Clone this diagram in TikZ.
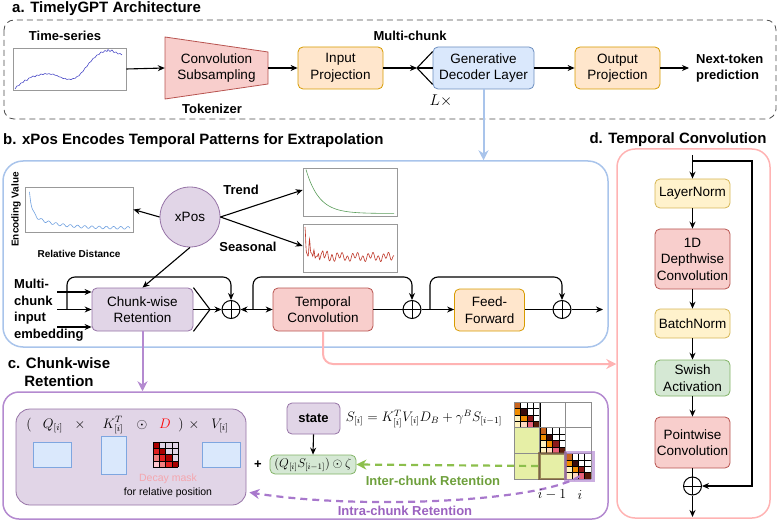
\documentclass[tikz,border=0pt]{standalone}
\usepackage{graphicx}
\usepackage{fontspec}
\setmainfont{Liberation Sans}
\usetikzlibrary{arrows.meta,calc}
\definecolor{pkF}{HTML}{F8CECC}\definecolor{pkD}{HTML}{B85450}
\definecolor{orF}{HTML}{FFE6CC}\definecolor{orD}{HTML}{D79B00}
\definecolor{blF}{HTML}{DAE8FC}\definecolor{blD}{HTML}{6C8EBF}
\definecolor{ylF}{HTML}{FFF2CC}\definecolor{ylD}{HTML}{D6B656}
\definecolor{gnF}{HTML}{D5E8D4}\definecolor{gnD}{HTML}{82B366}
\definecolor{puF}{HTML}{E1D5E7}\definecolor{puD}{HTML}{9673A6}
\definecolor{bBorder}{HTML}{A9C4EB}
\definecolor{dBorder}{HTML}{FFB3B3}
\definecolor{cBorder}{HTML}{B48AD0}
\definecolor{qRect}{HTML}{7EA6E0}
\definecolor{tsBlue}{HTML}{4C4CC8}
\definecolor{encBlue}{HTML}{6FA0E0}
\definecolor{trGreen}{HTML}{5C9E5C}
\definecolor{seRed}{HTML}{C0392B}
\definecolor{interG}{HTML}{6EA03C}
\definecolor{interDash}{HTML}{8CBF4C}
\definecolor{intraP}{HTML}{9B62C0}
\definecolor{intraDash}{HTML}{A878CC}
\definecolor{decayPink}{HTML}{F4A6AE}
\definecolor{offBlk}{HTML}{E6EFA6}
\definecolor{dA}{HTML}{A80000}\definecolor{dB}{HTML}{E02020}
\definecolor{dC}{HTML}{F08080}\definecolor{dD}{HTML}{FFC8D0}
\definecolor{mA}{HTML}{C8641E}\definecolor{mB}{HTML}{F08C00}
\definecolor{mC}{HTML}{3A0C0C}\definecolor{mD}{HTML}{FFF2BF}
\definecolor{mE}{HTML}{8B1A1A}\definecolor{mF}{HTML}{FFD8C0}
\definecolor{mG}{HTML}{E8607A}\definecolor{mH}{HTML}{5A1A0A}
\newcommand\fsBox{\fontsize{13.5}{16.5}\selectfont}
\newcommand\fsLbl{\fontsize{13}{16.5}\selectfont\bfseries}
\newcommand\fsTitle{\fontsize{15}{18}\selectfont\bfseries}
\newcommand\fsSmall{\fontsize{10}{12}\selectfont\bfseries}
\newcommand\fsMath{\fontsize{12}{14}\selectfont}
\newcommand\mth[1]{\scalebox{1.15}{$#1$}}
\begin{document}
\begin{tikzpicture}[x=1pt,y=-1pt,
  bx/.style={draw, rounded corners=5pt, align=center, font=\fsBox, inner sep=0pt, line width=0.8pt},
  orbox/.style={bx, fill=orF, draw=orD},
  blbox/.style={bx, fill=blF, draw=blD},
  pkbox/.style={bx, fill=pkF, draw=pkD},
  ylbox/.style={bx, fill=ylF, draw=ylD},
  gnbox/.style={bx, fill=gnF, draw=gnD},
  pubox/.style={bx, fill=puF, draw=puD},
  lbl/.style={font=\fsLbl, align=center, inner sep=0pt},
  ttl/.style={font=\fsTitle, inner sep=0pt},
  plotbox/.style={draw=black!40, line width=0.7pt, fill=white, inner sep=0pt},
  conn/.style={line width=1.1pt},
  arr/.style={conn, -{Stealth[length=7pt,width=6pt]}},
  thickarr/.style={line width=2pt, -{Stealth[length=10pt,width=10pt]}},
  pluscirc/.style={circle, draw, line width=1pt, minimum size=18pt, inner sep=0pt, fill=white,
    path picture={\draw[line width=0.9pt] (path picture bounding box.north) -- (path picture bounding box.south)
      (path picture bounding box.west) -- (path picture bounding box.east);}},
  mrect/.style={fill=blF, draw=qRect, line width=0.8pt},
]
\useasboundingbox (0,0) rectangle (778,521);

%% ================= a =================
\node[ttl, anchor=west] (ta) at (12,9) {a. TimelyGPT Architecture};
\draw[black!70, dashed, dash pattern=on 6pt off 4pt, line width=0.8pt, rounded corners=10pt] (4,20) rectangle (776,119);
\node[lbl] (tslbl) at (65,36) {Time-series};
\node[plotbox, minimum width=113pt, minimum height=42pt] (ts) at (69.5,69) {};
\draw[tsBlue, line width=0.6pt] (15,89) -- (17,86) -- (19,85.5) -- (21,83) -- (23,82.5) -- (25,80) -- (27,80.5) -- (29,78) -- (31,77.5) -- (33,76) -- (35,76.8) -- (37,75) -- (39,75.5) -- (41,74) -- (43,74.6) -- (45,73.5) -- (47,74.2) -- (49,73.6) -- (51,74.5) -- (53,74) -- (55,75.2) -- (57,75.5) -- (59,76.8) -- (61,77.2) -- (63,78.5) -- (65,78.4) -- (67,79.5) -- (69,79) -- (71,79.6) -- (73,78.5) -- (75,78.4) -- (77,76.5) -- (79,75.8) -- (81,73) -- (83,71.5) -- (85,68) -- (87,66.5) -- (89,63) -- (91,61.5) -- (93,58.5) -- (95,57.5) -- (97,55) -- (99,54.5) -- (101,52) -- (103,52.5) -- (105,50.5) -- (107,51.5) -- (108,49.5) -- (110,51.5) -- (112,50) -- (114,52.5) -- (116,52) -- (118,54) -- (120,53.5) -- (122,55);

\draw[fill=pkF, draw=pkD, line width=0.8pt] (165,37) -- (268,52) -- (268,84) -- (165,99) -- cycle;
\node[font=\fsBox, align=center, inner sep=0pt, minimum width=103pt, minimum height=32pt] (conv) at (216.5,68) {Convolution\\Subsampling};
\node[lbl] (tok) at (212,109) {Tokenizer};

\node[orbox, minimum width=85pt, minimum height=42pt] (inproj) at (340.5,68) {Input\\Projection};
\node[lbl] (mc) at (410,36) {Multi-chunk};
\coordinate (fan) at (417,68);
\node[blbox, minimum width=101pt, minimum height=42pt] (gdl) at (483.5,68) {Generative\\Decoder Layer};
\node[inner sep=0pt, font=\fsMath] (lx) at (441,101) {\scalebox{1.3}{$L\times$}};
\node[orbox, minimum width=85pt, minimum height=42pt] (outproj) at (617.5,68) {Output\\Projection};
\node[lbl, align=left, anchor=west, inner xsep=7pt] (next) at (689,68) {Next-token\\prediction};

\draw[arr] (ts.east) -- (conv.west);
\draw[arr] (conv.east) -- (inproj.west);
\draw[arr] (inproj.east) -- (fan);
\draw[conn] (fan) -- ($(gdl.north west)+(0,5)$);
\draw[conn] (fan) -- (gdl.west);
\draw[conn] (fan) -- ($(gdl.south west)+(0,-5)$);
\draw[arr] (gdl.east) -- (outproj.west);
\draw[arr] (outproj.east) -- (next.west);

%% ================= b =================
\node[ttl, anchor=west] (tb) at (3,141) {b. xPos Encodes Temporal Patterns for Extrapolation};
\node[draw=bBorder, line width=1.5pt, rounded corners=20pt, minimum width=605pt, minimum height=186pt, inner sep=0pt] (bbox) at (305.5,254) {};
\draw[bBorder, thickarr] (gdl.south) -- (gdl.south |- bbox.north);

\node[plotbox, minimum width=108pt, minimum height=45pt] (enc) at (79,209.5) {};
\draw[encBlue, line width=0.6pt] plot[domain=29.5:130, samples=160] (\x, {228 - 28*exp(-(\x-29)/2.5) - 14*exp(-(\x-29)/22) + 1.3*sin(50*(\x-29))});
\node[font=\fsSmall, rotate=90, inner sep=0pt] (encv) at (16,209.5) {Encoding Value};
\node[font=\fsSmall, inner sep=0pt] (reld) at (79,254) {Relative Distance};

\node[circle, draw=puD, fill=puF, line width=0.8pt, minimum size=60pt, inner sep=0pt, font=\fsBox] (xpos) at (190,217) {xPos};
\node[plotbox, minimum width=94pt, minimum height=48pt] (trend) at (350,192) {};
\draw[trGreen, line width=0.6pt] plot[domain=306:394, samples=90] (\x, {213.5 - 44*exp(-(\x-306)/13)});
\node[plotbox, minimum width=94pt, minimum height=48pt] (seas) at (350,248) {};
\draw[seRed, line width=0.6pt] plot[domain=305:394, samples=220] (\x, {257 - 3*sin(70*(\x-305)) - 2*sin(23*(\x-305)) - 30*exp(-(\x-305)/9)*pow(abs(cos(40*(\x-305))),6)});
\node[lbl] (trl) at (241,190) {Trend};
\node[lbl] (sel) at (248,247) {Seasonal};

\draw[arr] (xpos.west) -- (enc.east);
\draw[arr] (xpos.east) -- ($(trend.west)+(0,-2)$);
\draw[arr] (xpos.east) -- ($(seas.west)+(0,-2)$);

\node[lbl, align=left, anchor=north west] (mcin) at (14,279) {Multi-\\chunk\\input\\embedding};
\node[pubox, minimum width=101pt, minimum height=43pt] (cwr) at (142.5,309.5) {Chunk-wise\\Retention};
\draw[arr] (xpos.south) -- (cwr.north);
\coordinate (in1) at (57,292);
\coordinate (in2) at (57,309.5);
\coordinate (in3) at (57,327);
\draw[arr] (in1) -- (in1 -| cwr.west);
\draw[arr] (in2) -- (in2 -| cwr.west);
\draw[arr] (in3) -- (in3 -| cwr.west);

\node[pluscirc] (p1) at (231,309.5) {};
\node[pluscirc] (p2) at (412,309.5) {};
\node[pluscirc] (p3) at (562,309.5) {};
\coordinate (fo) at (210,309.5);
\draw[conn] (cwr.north east) -- (fo);
\draw[conn] (cwr.east) -- (fo);
\draw[conn] (cwr.south east) -- (fo);
\draw[arr] (fo) -- (p1.west);

\coordinate (sk1) at (67,309.5);
\draw[arr, rounded corners=8pt] (sk1) |- ($(p1.north)+(0,-23)$) -- (p1.north);

\node[pkbox, minimum width=100pt, minimum height=43pt] (tc) at (323,309.5) {Temporal\\Convolution};
\draw[conn, {Stealth[length=7pt,width=6pt]}-{Stealth[length=7pt,width=6pt]}] (p1.east) -- (tc.west);
\coordinate (sk2) at (253,309.5);
\draw[arr, rounded corners=8pt] (sk2) |- ($(p2.north)+(0,-23)$) -- (p2.north);
\draw[conn] (tc.east) -- (p2.west);

\node[orbox, minimum width=70pt, minimum height=42pt] (ff) at (489.5,310) {Feed-\\Forward};
\draw[arr] (p2.east) -- (ff.west |- p2.east);
\draw[conn] (ff.east |- p3.west) -- (p3.west);
\coordinate (sk3) at (430,309.5);
\draw[arr, rounded corners=8pt] (sk3) |- ($(p3.north)+(0,-23)$) -- (p3.north);
\coordinate (bout) at (603,309.5);
\draw[arr] (p3.east) -- (bout);

%% ================= d =================
\node[ttl] (td) at (678,140) {d. Temporal Convolution};
\node[draw=dBorder, line width=1.5pt, rounded corners=18pt, minimum width=153pt, minimum height=369pt, inner sep=0pt] (dbox) at (693.5,333.5) {};
\draw[dBorder, thickarr, rounded corners=10pt] (tc.south) |- ($(dbox.west)+(0,30.5)$);

\node[ylbox, minimum width=75pt, minimum height=29pt] (ln) at (692.5,193.5) {LayerNorm};
\node[pkbox, minimum width=75pt, minimum height=60pt] (dw) at (692.5,259) {1D\\Depthwise\\Convolution};
\node[ylbox, minimum width=75pt, minimum height=29pt] (bn) at (692.5,323.5) {BatchNorm};
\node[gnbox, minimum width=75pt, minimum height=36pt] (sw) at (692.5,378) {Swish\\Activation};
\node[pkbox, minimum width=75pt, minimum height=51pt] (pw) at (692.5,442.5) {Pointwise\\Convolution};
\node[pluscirc] (p4) at (692.5,486) {};
\coordinate (dtop) at (692.5,155);
\coordinate (dbr) at (692.5,161);
\coordinate (dend) at (692.5,517);
\draw[arr] (dtop) -- (ln.north);
\draw[arr] (ln.south) -- (dw.north);
\draw[arr] (dw.south) -- (bn.north);
\draw[arr] (bn.south) -- (sw.north);
\draw[arr] (sw.south) -- (pw.north);
\draw[conn] (pw.south) -- (p4.north);
\draw[arr] (p4.south) -- (dend);
\draw[arr] (dbr) -- (752,161) -- (752,486) -- (p4.east);

%% ================= c =================
\node[ttl, align=center] (tcc) at (59,372) {c. Chunk-wise\\Retention};
\node[draw=cBorder, line width=1.5pt, rounded corners=16pt, minimum width=605pt, minimum height=127pt, inner sep=0pt] (cbox) at (305.5,455.5) {};
\draw[cBorder, thickarr] (cwr.south) -- (cwr.south |- cbox.north);

\node[fill=puF, draw=puD, line width=0.8pt, rounded corners=14pt, minimum width=230pt, minimum height=96pt, inner sep=0pt] (inner) at (131,457) {};
\begin{scope}[every node/.style={font=\fsMath, inner sep=0pt, anchor=base}]
\node (lp) at (29,428) {\mth{(}};
\node (fq) at (53,428) {\mth{Q_{[i]}}};
\node (x1) at (80,428) {\mth{\times}};
\node (fk) at (113,428) {\mth{K^T_{[i]}}};
\node (od) at (142,428) {\mth{\odot}};
\node (fd) at (165,428) {\color{red}\mth{D}};
\node (rp) at (181,428) {\mth{)}};
\node (x2) at (194,428) {\mth{\times}};
\node (fv) at (220,428) {\mth{V_{[i]}}};
\end{scope}
\draw[mrect] (33,442) rectangle (71,467);
\draw[mrect] (101,436) rectangle (126,474);
\draw[mrect] (202,442) rectangle (240,467);
% decay mask
\foreach \r/\c/\col in {0/0/dA,1/0/dB,1/1/dA,2/0/dC,2/1/dB,2/2/dA,3/0/dD,3/1/dC,3/2/dB,3/3/dA}
  \fill[\col] ({153+\c*6.3},{442+\r*6.3}) rectangle ++(6.3,6.3);
\foreach \k in {0,...,4} {
  \draw[black, line width=0.4pt] ({153+\k*6.3},442) -- ++(0,25.2);
  \draw[black, line width=0.4pt] (153,{442+\k*6.3}) -- ++(25.2,0);
}
\node[font=\fontsize{10.5}{12}\selectfont, text=decayPink, inner sep=0pt] (dm) at (168,479) {Decay mask};
\node[font=\fontsize{10.5}{12}\selectfont, inner sep=0pt] (frp) at (168,492.5) {for relative position};

\node[pubox, font=\fsLbl, minimum width=53pt, minimum height=31pt] (state) at (313.5,418.5) {state};
\node[font=\fsMath, inner sep=0pt] (seq) at (424,419) {\mth{S_{[i]} = K^T_{[i]}V_{[i]}D_B + \gamma^B S_{[i-1]}}};
\node[gnbox, font=\fsMath, minimum width=86pt, minimum height=19pt] (grn) at (313,464.5) {\scalebox{1.05}{$(Q_{[i]}S_{[i-1]})\odot\zeta$}};
\draw[arr] (state.south) -- (grn.north);
\node[font=\fsLbl, inner sep=0pt] (plus) at (258,465) {+};

% big matrix
\def\bs{25.667}
\def\cs{6.4167}
\fill[offBlk] (514,{402+\bs}) rectangle ++(\bs,\bs);
\fill[offBlk] (514,{402+2*\bs}) rectangle ++(\bs,\bs);
\fill[offBlk] ({514+\bs},{402+2*\bs}) rectangle ++(\bs,\bs);
\foreach \b in {0,1,2} {
  \foreach \r/\c/\col in {0/0/mA,1/0/mB,1/1/mC,2/0/mD,2/1/mB,2/2/mE,3/0/mD,3/1/mF,3/2/mG,3/3/mH}
    \fill[\col] ({514+\b*\bs+\c*\cs},{402+\b*\bs+\r*\cs}) rectangle ++(\cs,\cs);
  \foreach \k in {0,...,4} {
    \draw[black, line width=0.35pt] ({514+\b*\bs+\k*\cs},{402+\b*\bs}) -- ++(0,\bs);
    \draw[black, line width=0.35pt] ({514+\b*\bs},{402+\b*\bs+\k*\cs}) -- ++(\bs,0);
  }
}
\foreach \k in {0,...,3} {
  \draw[black!45, line width=0.8pt] ({514+\k*\bs},402) -- ++(0,{3*\bs});
  \draw[black!45, line width=0.8pt] (514,{402+\k*\bs}) -- ++({3*\bs},0);
}
\draw[black!45!brown, opacity=0.6, line width=2.5pt] ({514+\bs},{402+2*\bs}) rectangle ++(\bs,\bs);
\draw[intraDash, opacity=0.6, line width=3pt] ({514+2*\bs},{402+2*\bs-1}) rectangle ++({\bs+2},{\bs+2});

\coordinate (gst) at (538,466);
\draw[interDash, line width=2.2pt, dash pattern=on 7pt off 5pt, -{Stealth[length=10pt,width=10pt]}] (gst) -- (grn.east);
\node[font=\fsLbl, text=interG, inner sep=0pt] (inter) at (433,481) {Inter-chunk Retention};

\coordinate (pst) at (580,476);
\draw[intraDash, line width=2.2pt, dash pattern=on 7pt off 5pt, -{Stealth[length=10pt,width=10pt]}] (pst) .. controls (540,502) and (360,510) .. ($(inner.south east)+(3,-13)$);
\node[font=\fsLbl, text=intraP, inner sep=0pt] (intra) at (405,511) {Intra-chunk Retention};
\node[font=\fsMath, inner sep=0pt] (im1) at (552,495) {\mth{i-1}};
\node[font=\fsMath, inner sep=0pt] (ii) at (580,495) {\mth{i}};
\end{tikzpicture}
\end{document}
